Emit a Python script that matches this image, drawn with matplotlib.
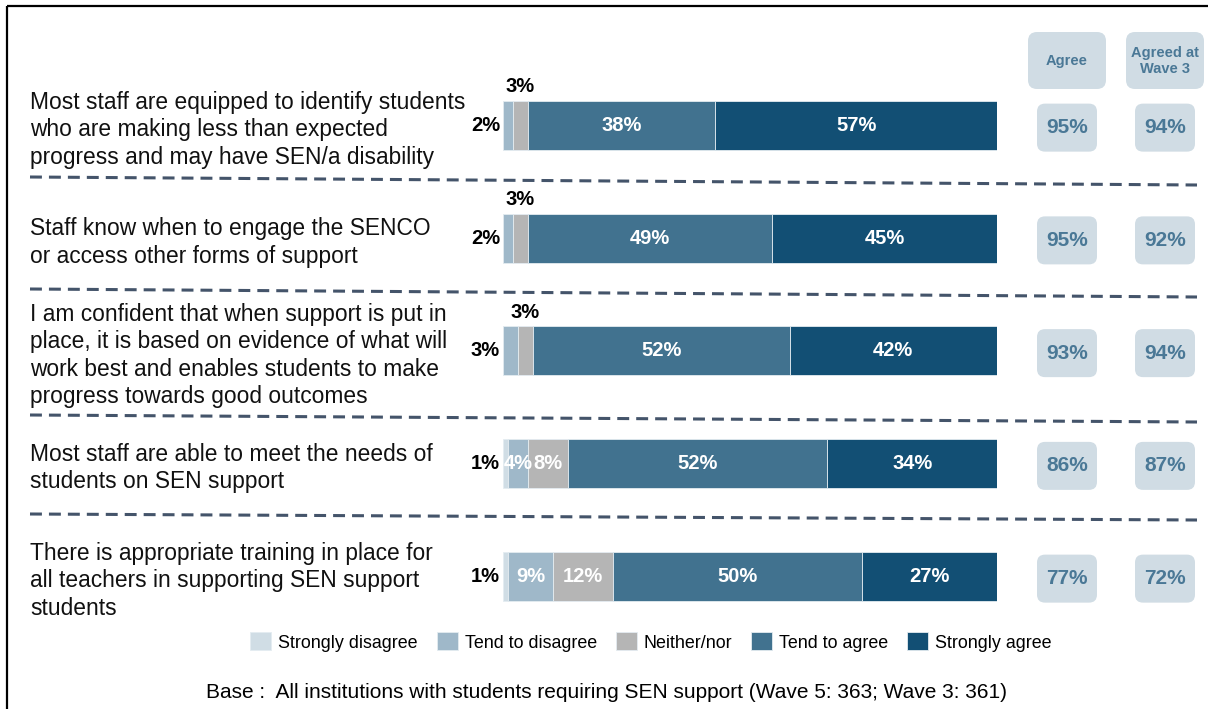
import matplotlib.pyplot as plt
import numpy as np
from matplotlib.patches import FancyBboxPatch, Rectangle
from matplotlib.transforms import blended_transform_factory

plt.rcParams["font.family"] = ["Liberation Sans", "DejaVu Sans"]

# Survey statements (top to bottom)
statements = [
    "Most staff are equipped to identify students\nwho are making less than expected\nprogress and may have SEN/a disability",
    "Staff know when to engage the SENCO\nor access other forms of support",
    "I am confident that when support is put in\nplace, it is based on evidence of what will\nwork best and enables students to make\nprogress towards good outcomes",
    "Most staff are able to meet the needs of\nstudents on SEN support",
    "There is appropriate training in place for\nall teachers in supporting SEN support\nstudents",
]

categories = ["Strongly disagree", "Tend to disagree", "Neither/nor",
              "Tend to agree", "Strongly agree"]

strongly_disagree = [0, 0, 0, 1, 1]
tend_to_disagree = [2, 2, 3, 4, 9]
neither_nor = [3, 3, 3, 8, 12]
tend_to_agree = [38, 49, 52, 52, 50]
strongly_agree = [57, 45, 42, 34, 27]

agree_wave5 = [95, 95, 93, 86, 77]
agree_wave3 = [94, 92, 94, 87, 72]

colors = ["#D0DDE5", "#9FB8C9", "#B5B5B5", "#41728F", "#124F74"]
box_color = "#D0DCE4"
box_text = "#4A7896"
dash_color = "#44546A"

W, H = 1208, 709
fig = plt.figure(figsize=(W / 100, H / 100), dpi=100)

# overlay axes in pixel units for frame, separators and side boxes
ov = fig.add_axes([0, 0, 1, 1])
ov.set_xlim(0, W)
ov.set_ylim(H, 0)
ov.axis("off")

# bar axes: rows at 0..4, 0-100% across
row_top, row_bottom = 69.0, 632.75
bar_left, bar_right = 503.0, 997.0
ax = fig.add_axes([bar_left / W, 1 - row_bottom / H,
                   (bar_right - bar_left) / W, (row_bottom - row_top) / H])
ax.set_xlim(0, 100)
ax.set_ylim(4.5, -0.5)
ax.axis("off")

series = np.array([strongly_disagree, tend_to_disagree, neither_nor,
                   tend_to_agree, strongly_agree], dtype=float)
totals = series.sum(axis=0)
shares = series / totals * 100
rows = np.arange(len(statements))
bar_h = 0.435

left = np.zeros(len(statements))
for k, (name, col) in enumerate(zip(categories, colors)):
    ax.barh(rows, shares[k], left=left, height=bar_h, color=col,
            edgecolor="#E4ECF1", linewidth=0.6, label=name)
    for i in rows:
        v = series[k, i]
        if v == 0:
            continue
        cx = left[i] + shares[k, i] / 2
        txt = f"{int(v)}%"
        if v <= 3:
            if k == 2:
                ax.text(cx, i - bar_h / 2 - 0.04, txt, ha="center", va="bottom",
                        fontsize=14.5, fontweight="bold", color="black")
            else:
                ax.text(-0.6, i, txt, ha="right", va="center",
                        fontsize=14.5, fontweight="bold", color="black")
        else:
            ax.text(cx, i, txt, ha="center", va="center",
                    fontsize=14.5, fontweight="bold", color="white")
    left += shares[k]

# statement text and agree boxes, x in pixels, y in row units
tr = blended_transform_factory(ov.transData, ax.transData)
for i, s in enumerate(statements):
    ov.text(30, i + 0.04, s, transform=tr, ha="left", va="center",
            fontsize=16.4, linespacing=1.25, color="#111111")

px_per_row = (row_bottom - row_top) / 5
box_h = 48 / px_per_row
for col_x, vals in [(1067, agree_wave5), (1165, agree_wave3)]:
    for i, v in enumerate(vals):
        ov.add_patch(FancyBboxPatch((col_x - 30, i - box_h / 2 + 0.02), 60, box_h,
                                    boxstyle="round,pad=0,rounding_size=8",
                                    transform=tr, facecolor=box_color,
                                    edgecolor="none", mutation_aspect=1 / px_per_row))
        ov.text(col_x, i + 0.02, f"{v}%", transform=tr, ha="center", va="center",
                fontsize=15, fontweight="bold", color=box_text)

# column headers
for cx, label in [(1067, "Agree"), (1165, "Agreed at\nWave 3")]:
    ov.add_patch(FancyBboxPatch((cx - 39, 32), 78, 57,
                                boxstyle="round,pad=0,rounding_size=9",
                                facecolor=box_color, edgecolor="none"))
    ov.text(cx, 61, label, ha="center", va="center", fontsize=10.5,
            fontweight="bold", color=box_text, linespacing=1.15)

# dashed separators between statements
separators = [(177, 185), (289, 297), (415, 422), (514, 520)]
for y0, y1 in separators:
    ov.plot([30, 1197], [y0, y1], color=dash_color, linewidth=2.2,
            linestyle=(0, (3.9, 2.3)), solid_capstyle="butt")

# outer frame
ov.add_patch(Rectangle((7, 6), 1230, 760, fill=False, edgecolor="black",
                       linewidth=1.6, clip_on=False))

handles, labels = ax.get_legend_handles_labels()
fig.legend(handles, labels, loc="center", bbox_to_anchor=(651 / W, 1 - 642 / H),
           ncol=5, frameon=False, fontsize=12.9, handlelength=1.17,
           handleheight=1.17, handletextpad=0.39, columnspacing=1.06)

fig.text(607 / W, 1 - 692 / H,
         "Base :  All institutions with students requiring SEN support (Wave 5: 363; Wave 3: 361)",
         ha="center", va="center", fontsize=15)

fig.savefig("out.png", dpi=100)
